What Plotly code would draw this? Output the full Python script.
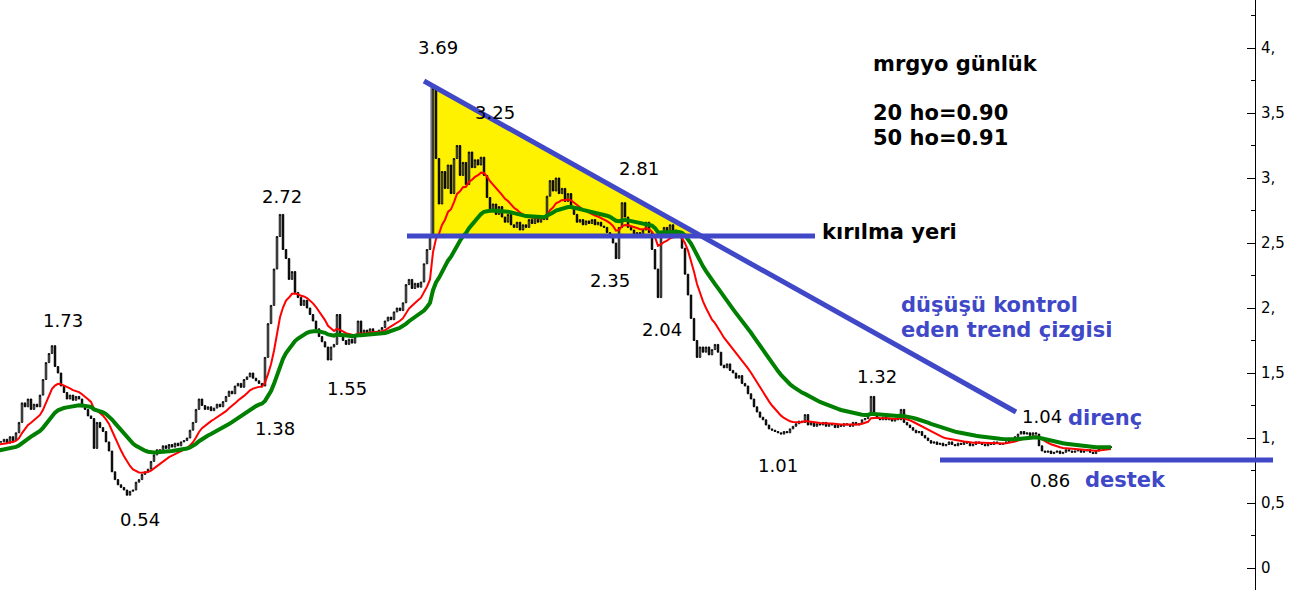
import plotly.graph_objects as go
import pandas as pd

# ---------------- data ----------------
# closes before the visible window (only used so the averages are warmed up)
warmup_close = [0.78, 0.76, 0.79, 0.77, 0.80, 0.78, 0.81, 0.79, 0.82, 0.80,
                0.83, 0.81, 0.84, 0.82, 0.85, 0.83, 0.86, 0.84, 0.87, 0.85,
                0.88, 0.86, 0.89, 0.87, 0.90, 0.88, 0.91, 0.93, 0.92, 0.95,
                0.94, 0.96, 0.95, 0.97, 0.96, 0.98, 0.97, 0.96, 0.98, 0.97]

# daily closes (visible part)
close = [
    0.97, 0.99, 0.96, 1.01, 0.98, 1.04, 1.12, 1.27, 1.24, 1.30,
    1.22, 1.26, 1.24, 1.33, 1.45, 1.58, 1.65, 1.71, 1.55, 1.50,
    1.40, 1.35, 1.30, 1.33, 1.29, 1.32, 1.30, 1.24, 1.22, 1.17,
    1.15, 0.92, 1.12, 1.08, 1.05, 0.97, 0.90, 0.74, 0.68, 0.64,
    0.62, 0.60, 0.56, 0.59, 0.60, 0.66, 0.68, 0.72, 0.74, 0.76,
    0.82, 0.87, 0.91, 0.90, 0.94, 0.92, 0.95, 0.93, 0.96, 0.94,
    0.97, 0.98, 1.00, 1.06, 1.12, 1.22, 1.30, 1.25, 1.22, 1.24,
    1.21, 1.23, 1.26, 1.24, 1.28, 1.32, 1.36, 1.34, 1.40, 1.42,
    1.39, 1.45, 1.47, 1.50, 1.46, 1.44, 1.42, 1.40, 1.62, 1.88,
    2.02, 2.30, 2.55, 2.72, 2.45, 2.38, 2.22, 2.28, 2.12, 2.08,
    2.02, 2.06, 2.00, 1.95, 1.90, 1.84, 1.78, 1.74, 1.70, 1.60,
    1.70, 1.72, 1.95, 1.78, 1.75, 1.72, 1.76, 1.73, 1.78, 1.90,
    1.80, 1.83, 1.80, 1.84, 1.82, 1.80, 1.83, 1.85, 1.90, 1.93,
    1.91, 1.97, 2.00, 1.98, 2.04, 2.18, 2.22, 2.15, 2.19, 2.16,
    2.20, 2.34, 2.45, 2.55, 3.69, 3.15, 2.80, 3.05, 2.92, 3.10,
    2.88, 3.15, 3.25, 3.02, 3.12, 2.95, 3.20, 3.08, 3.14, 3.10,
    3.16, 3.02, 2.85, 2.76, 2.80, 2.72, 2.78, 2.70, 2.66, 2.72,
    2.64, 2.62, 2.66, 2.60, 2.64, 2.62, 2.68, 2.65, 2.70, 2.66,
    2.70, 2.68, 2.86, 2.98, 2.90, 3.00, 2.88, 2.92, 2.82, 2.88,
    2.78, 2.72, 2.66, 2.68, 2.64, 2.67, 2.65, 2.68, 2.64, 2.66,
    2.63, 2.62, 2.58, 2.56, 2.50, 2.38, 2.62, 2.81, 2.70, 2.62,
    2.60, 2.56, 2.58, 2.55, 2.60, 2.66, 2.58, 2.45, 2.30, 2.08,
    2.55, 2.62, 2.58, 2.64, 2.60, 2.56, 2.58, 2.46, 2.26, 2.10,
    1.92, 1.75, 1.62, 1.70, 1.66, 1.70, 1.64, 1.68, 1.72, 1.66,
    1.56, 1.54, 1.57, 1.52, 1.50, 1.46, 1.48, 1.42, 1.40, 1.34,
    1.30, 1.24, 1.20, 1.16, 1.14, 1.10, 1.07, 1.06, 1.05, 1.04,
    1.03, 1.05, 1.04, 1.07, 1.09, 1.11, 1.13, 1.12, 1.18, 1.10,
    1.12, 1.09, 1.11, 1.10, 1.12, 1.09, 1.11, 1.10, 1.08, 1.10,
    1.09, 1.11, 1.10, 1.09, 1.12, 1.10, 1.11, 1.14, 1.15, 1.18,
    1.32, 1.18, 1.15, 1.14, 1.16, 1.14, 1.15, 1.13, 1.15, 1.14,
    1.22, 1.12, 1.10, 1.08, 1.06, 1.04, 1.05, 1.02, 1.00, 0.98,
    0.96, 0.97, 0.95, 0.96, 0.94, 0.95, 0.97, 0.95, 0.94, 0.96,
    0.95, 0.97, 0.96, 0.94, 0.95, 0.97, 0.96, 0.95, 0.94, 0.96,
    0.95, 0.97, 0.96, 0.95, 0.96, 0.97, 0.98, 0.99, 1.01, 1.03,
    1.05, 1.03, 1.04, 1.02, 1.04, 1.03, 0.94, 0.90, 0.89, 0.90,
    0.88, 0.89, 0.90, 0.88, 0.89, 0.91, 0.90, 0.89, 0.90, 0.91,
    0.89, 0.90, 0.91, 0.89, 0.88, 0.90, 0.92, 0.93, 0.92, 0.93, 0.93,
]

tick_vals = [0, 0.5, 1, 1.5, 2, 2.5, 3, 3.5, 4]
tick_text = ["0", "0,5", "1,", "1,5", "2,", "2,5", "3,", "3,5", "4,"]
minor_vals = [0.25, 0.75, 1.25, 1.75, 2.25, 2.75, 3.25, 3.75, 4.25]

price_labels = ["3.69", "3.25", "2.81", "2.72", "1.73", "1.55", "1.38", "0.54",
                "2.35", "2.04", "1.32", "1.01", "1.04", "0.86"]
title_lines = ["mrgyo günlük", "20 ho=0.90", "50 ho=0.91"]

FAST, SLOW = 13, 33   # 20 / 50 day averages at this bar density

# ---------------- derived series ----------------
all_close = warmup_close + close
n_warm = len(warmup_close)
xs = list(range(-n_warm, len(close)))
opens = [all_close[0]] + all_close[:-1]
highs = [max(o, c) for o, c in zip(opens, all_close)]
lows = [min(o, c) for o, c in zip(opens, all_close)]
s = pd.Series(all_close)
ema_fast = s.ewm(span=FAST, adjust=False).mean()
ema_slow = s.ewm(span=SLOW, adjust=False).mean()

# pixel helpers for decorations (plot area 1255 x 590)
def PX(px):
    return (px - 1) / 3.0

def PY(py):
    return (568 - py) / 130.0

BLUE = "#4048c8"
FONT = "DejaVu Sans"

fig = go.Figure()
fig.add_trace(go.Candlestick(
    x=xs, open=opens, high=highs, low=lows, close=all_close,
    increasing=dict(line=dict(color="black", width=1), fillcolor="white"),
    decreasing=dict(line=dict(color="black", width=1), fillcolor="black"),
    whiskerwidth=0, hoverinfo="skip"))
fig.add_trace(go.Scatter(x=xs, y=ema_fast, mode="lines",
                         line=dict(color="#ff0000", width=2), hoverinfo="skip"))
fig.add_trace(go.Scatter(x=xs, y=ema_slow, mode="lines",
                         line=dict(color="#008000", width=4), hoverinfo="skip"))

shapes = [
    # yellow triangle
    dict(type="path", xref="x", yref="y", layer="below",
         path=f"M {PX(431)},{PY(85)} L {PX(431)},{PY(236)} L {PX(702)},{PY(236)} Z",
         fillcolor="#fff200", line=dict(color=BLUE, width=1)),
    # trend line
    dict(type="line", xref="x", yref="y", layer="above",
         x0=PX(424), y0=PY(81), x1=PX(1016), y1=PY(412),
         line=dict(color=BLUE, width=5)),
    # break level
    dict(type="line", xref="x", yref="y", layer="above",
         x0=PX(407), y0=PY(236), x1=PX(815), y1=PY(236),
         line=dict(color=BLUE, width=5)),
    # support
    dict(type="line", xref="paper", yref="y", layer="above",
         x0=940 / 1255, y0=PY(460), x1=1273 / 1255, y1=PY(460),
         line=dict(color=BLUE, width=5)),
]

label_pos = {
    "3.69": (438, 47), "3.25": (495, 112), "2.81": (639, 168), "2.72": (282, 196),
    "1.73": (63, 320), "1.55": (347, 388), "1.38": (275, 428), "0.54": (140, 519),
    "2.35": (610, 280), "2.04": (662, 329), "1.32": (877, 376), "1.01": (778, 465),
    "1.04": (1042, 416), "0.86": (1050, 480),
}
ann = []
for t in price_labels:
    px, py = label_pos[t]
    ann.append(dict(x=PX(px), y=PY(py), text=t, showarrow=False,
                    xanchor="center", yanchor="middle",
                    font=dict(family=FONT, size=18, color="black")))

bold_black = [(title_lines[0], 871, 64), (title_lines[1], 871, 113),
              (title_lines[2], 871, 138), ("kırılma yeri", 820, 232)]
for t, px, py in bold_black:
    ann.append(dict(x=PX(px), y=PY(py), text=f"<b>{t}</b>", showarrow=False,
                    xanchor="left", yanchor="middle",
                    font=dict(family=FONT, size=21, color="black")))
bold_blue = [("düşüşü kontrol", 899, 305), ("eden trend çizgisi", 899, 330),
             ("direnç", 1066, 418), ("destek", 1083, 480)]
for t, px, py in bold_blue:
    ann.append(dict(x=PX(px), y=PY(py), text=f"<b>{t}</b>", showarrow=False,
                    xanchor="left", yanchor="middle",
                    font=dict(family=FONT, size=21, color=BLUE)))

fig.update_layout(
    width=1310, height=590,
    margin=dict(l=0, r=55, t=0, b=0),
    paper_bgcolor="white", plot_bgcolor="white",
    showlegend=False,
    shapes=shapes, annotations=ann,
    xaxis=dict(range=[PX(0), PX(1255)], visible=False, showgrid=False,
               rangeslider=dict(visible=False), fixedrange=True),
    yaxis=dict(range=[PY(590), PY(0)], side="right", showgrid=False,
               zeroline=False, showline=True, linecolor="black", linewidth=1,
               tickmode="array", tickvals=tick_vals, ticktext=tick_text,
               ticks="inside", ticklen=8, tickcolor="black", tickwidth=1,
               ticklabelposition="outside", ticklabelstandoff=2,
               tickfont=dict(family=FONT, size=15, color="black"),
               minor=dict(tickmode="array", tickvals=minor_vals, ticks="inside",
                          ticklen=4, tickcolor="black", tickwidth=1),
               fixedrange=True),
)

fig.write_html("out.html",
               config={"displayModeBar": False, "staticPlot": True},
               post_script="document.body.style.margin='0';"
                           "document.body.style.overflow='hidden';")
